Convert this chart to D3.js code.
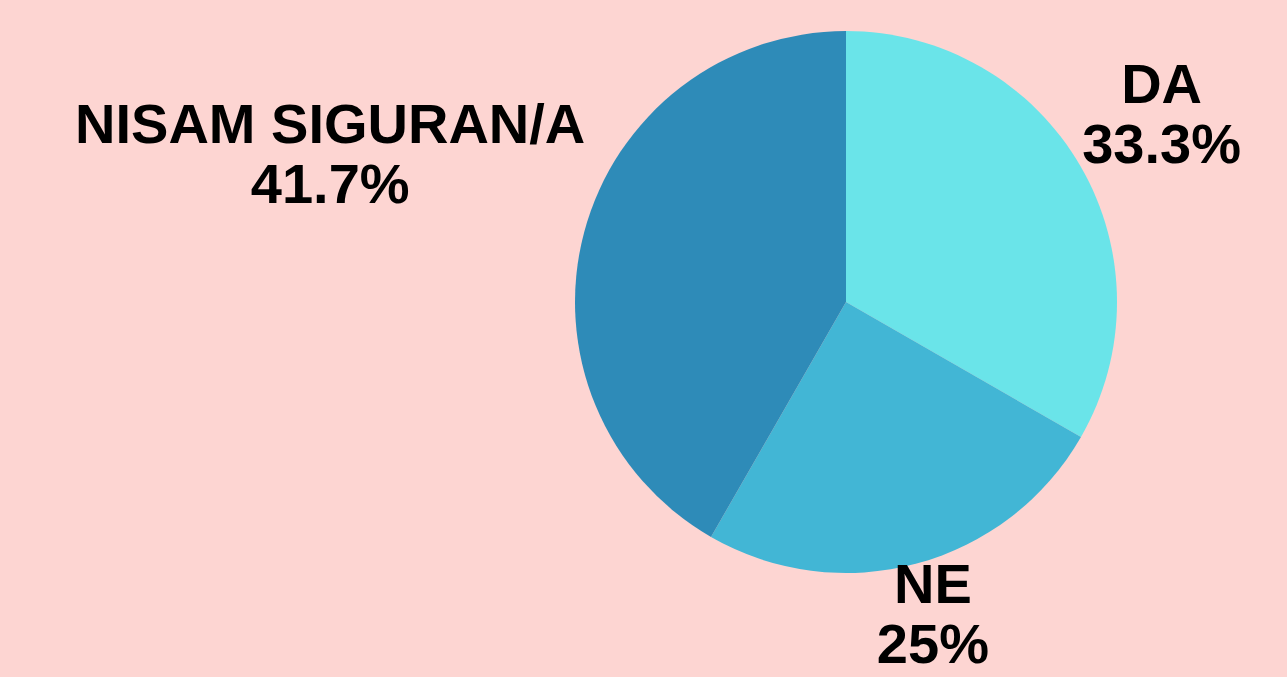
<!DOCTYPE html>
<html>
<head>
<meta charset="utf-8">
<script src="https://cdn.jsdelivr.net/npm/d3@7"></script>
<style>
  html, body { margin: 0; padding: 0; background: #fdd5d2; }
  svg { display: block; }
</style>
</head>
<body>
<div id="chart"></div>
<script>
// answers, in clockwise order from 12 o'clock
const categories = ["DA", "NE", "NISAM SIGURAN/A"];
const shares = [33.3, 25, 41.7];
const percentLabels = ["33.3%", "25%", "41.7%"];
const sliceColors = ["#6ae4e9", "#42b6d5", "#2e8bb8"];

const width = 1287, height = 677;
const center_x = 846, center_y = 302;
const radius = 271;
const labelRadius = 360;
const lineGap = 60;
// small nudges so labels sit where the original put them
const labelNudge = [[4, -8], [-7, -36], [-168, -56]];

const svg = d3.select("#chart")
  .append("svg")
  .attr("width", width)
  .attr("height", height);

svg.append("rect")
  .attr("width", width)
  .attr("height", height)
  .attr("fill", "#fdd5d2");

const pie = d3.pie().sort(null).value(d => d);
const arcs = pie(shares);

const arc = d3.arc().innerRadius(0).outerRadius(radius);
const labelArc = d3.arc().innerRadius(labelRadius).outerRadius(labelRadius);

const g = svg.append("g")
  .attr("transform", `translate(${center_x},${center_y})`);

g.selectAll("path")
  .data(arcs)
  .join("path")
  .attr("d", arc)
  .attr("fill", (d, i) => sliceColors[i]);

const labels = g.selectAll("text")
  .data(arcs)
  .join("text")
  .attr("text-anchor", "middle")
  .attr("font-family", "'Liberation Sans', Arial, sans-serif")
  .attr("font-weight", "bold")
  .attr("font-size", "56px")
  .attr("fill", "#000")
  .attr("transform", (d, i) => {
    const c = labelArc.centroid(d);
    return `translate(${c[0] + labelNudge[i][0]},${c[1] + labelNudge[i][1]})`;
  });

labels.append("tspan")
  .attr("x", 0)
  .attr("y", -lineGap / 2 + 19.5)
  .text((d, i) => categories[i]);

labels.append("tspan")
  .attr("x", 0)
  .attr("y", lineGap / 2 + 19.5)
  .text((d, i) => percentLabels[i]);
</script>
</body>
</html>
